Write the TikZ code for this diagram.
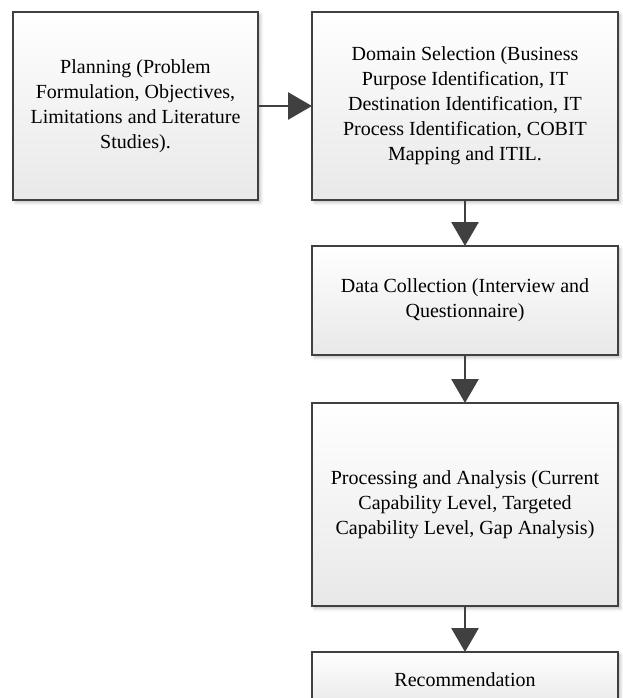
\documentclass[tikz,border=0pt]{standalone}
\usepackage{fontspec}
\setmainfont{Liberation Serif}
\usetikzlibrary{arrows.meta,shadows.blur}
\definecolor{edge}{HTML}{404040}
\begin{document}
\begin{tikzpicture}[x=1pt,y=-1pt,
  box/.style={draw=edge, line width=2.8pt, top color=white, bottom color=black!9,
    align=center, anchor=north west, inner sep=0pt, outer sep=0pt,
    font=\fontsize{20}{25}\selectfont,
    blur shadow={shadow xshift=2.5pt, shadow yshift=-2.5pt, shadow blur radius=3pt, shadow opacity=25}},
  flow/.style={draw=edge, line width=2.8pt, -{Triangle[length=24pt,width=27pt]}}]
\useasboundingbox (0,0) rectangle (623,698);
\node[box, minimum width=245pt, minimum height=188pt] (plan) at (13,12)
  {Planning (Problem\\Formulation, Objectives,\\Limitations and Literature\\Studies).};
\node[box, minimum width=306pt, minimum height=188pt] (dom) at (312,12)
  {Domain Selection (Business\\Purpose Identification, IT\\Destination Identification, IT\\Process Identification, COBIT\\Mapping and ITIL.};
\node[box, minimum width=306pt, minimum height=109pt] (data) at (312,246)
  {Data Collection (Interview and\\Questionnaire)};
\node[box, minimum width=306pt, minimum height=203pt] (proc) at (312,403)
  {Processing and Analysis (Current\\Capability Level, Targeted\\Capability Level, Gap Analysis)};
\node[box, minimum width=306pt, minimum height=56pt] (rec) at (312,652)
  {Recommendation};
\draw[flow] (plan.east) -- (dom.west);
\draw[flow] (dom.south) -- (data.north);
\draw[flow] (data.south) -- (proc.north);
\draw[flow] (proc.south) -- (rec.north);
\end{tikzpicture}
\end{document}
